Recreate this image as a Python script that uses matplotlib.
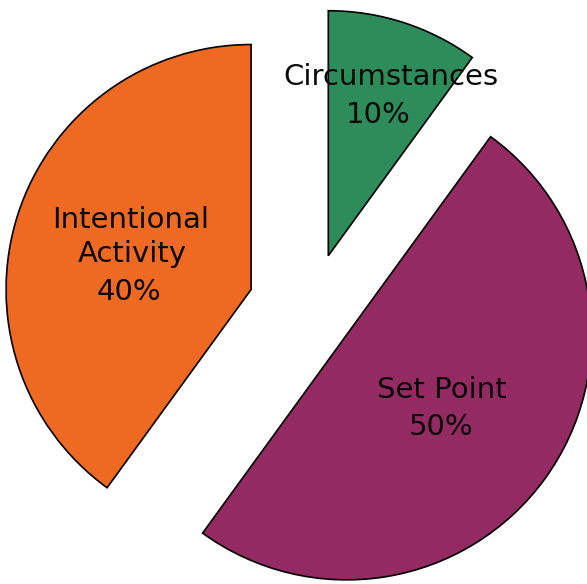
import matplotlib
matplotlib.use("Agg")
import matplotlib.pyplot as plt

# data
categories = ["Circumstances", "Set Point", "Intentional\nActivity"]
shares = [10, 50, 40]
pct_labels = ["10%", "50%", "40%"]

# styling
colors = ["#2E8B5A", "#932A62", "#EE6A22"]
explode_px = [56, 44, 63]
W, H = 587, 584
center = (311, H - 309)
radius = 245

# label placement: image px (x, baseline y) for each text line
name_pos = [[(391, 85)], [(442, 398)], [(131, 228), (132, 262)]]
pct_pos = [(378, 123), (441, 435), (129, 300)]

fig = plt.figure(figsize=(W / 100, H / 100), dpi=100)
ax = fig.add_axes([0, 0, 1, 1])

ax.pie(shares, colors=colors, explode=explode_px, startangle=90,
       counterclock=False, center=center, radius=radius, frame=True,
       wedgeprops=dict(edgecolor="black", linewidth=1.2))
ax.set_xlim(0, W)
ax.set_ylim(0, H)
ax.set_aspect("equal")
ax.axis("off")

fs = 21
txt = dict(ha="center", va="baseline", fontsize=fs, family="DejaVu Sans",
           color="#0a0a0a")
for name, poses in zip(categories, name_pos):
    for line, (x, y) in zip(name.split("\n"), poses):
        ax.text(x, H - y, line, **txt)
for p, (x, y) in zip(pct_labels, pct_pos):
    ax.text(x, H - y, p, **txt)

fig.savefig("out.png", dpi=100)
